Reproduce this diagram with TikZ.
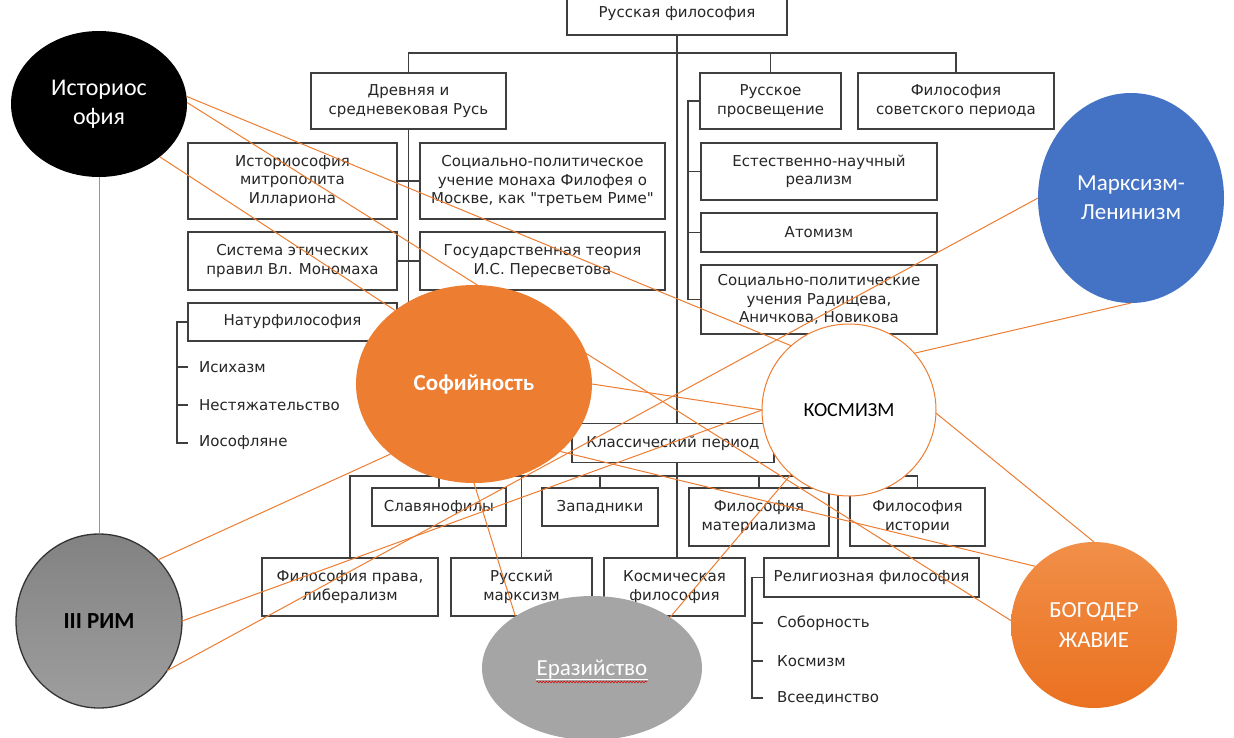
\documentclass[tikz,border=0pt]{standalone}
\usepackage{fontspec}
\setmainfont{DejaVu Sans}
\newfontfamily\boxff{DejaVu Sans}
\newfontfamily\calfont{Carlito}
\usetikzlibrary{shapes.geometric,decorations.pathmorphing}
\definecolor{boxc}{HTML}{3F3F3F}
\definecolor{txtc}{HTML}{262626}
\definecolor{org}{HTML}{ED7D31}
\definecolor{blu}{HTML}{4472C4}
\definecolor{gry}{HTML}{A5A5A5}
\definecolor{rimt}{HTML}{828282}
\definecolor{rimb}{HTML}{9E9E9E}
\definecolor{bogt}{HTML}{F18F48}
\definecolor{bogb}{HTML}{EA7120}
\newcommand{\boxfont}{\boxff\fontsize{15}{18.5}\selectfont}
\begin{document}
\begin{tikzpicture}[x=1pt,y=-1pt,
  box/.style={draw=boxc, line width=1.2pt, fill=white, align=center, inner sep=1pt, text=txtc, font=\boxfont},
  lst/.style={anchor=west, inner sep=0pt, text=txtc, font=\boxfont},
  tree/.style={draw=boxc, line width=1.2pt},
  conn/.style={draw=org, line width=1pt},
  circ/.style={ellipse, inner sep=0pt, outer sep=0pt, align=center}]
\useasboundingbox (0,0) rectangle (1234,737);
\fill[white] (0,0) rectangle (1234,737);

% ---- boxes ----
\node[box, minimum width=220pt, minimum height=42pt] (rus) at (677,14) {Русская философия};
\node[box, minimum width=195pt, minimum height=56pt] (drev) at (408.5,101) {Древняя и\\средневековая Русь};
\node[box, minimum width=141pt, minimum height=56pt] (ros) at (770.5,101) {Русское\\просвещение};
\node[box, minimum width=196pt, minimum height=56pt] (sov) at (956,101) {Философия\\советского периода};
\node[box, minimum width=209pt, minimum height=76pt] (ilar) at (292.5,181) {Историософия\\митрополита\\Иллариона};
\node[box, minimum width=245pt, minimum height=76pt] (filo) at (542.5,181) {Социально-политическое\\учение монаха Филофея о\\Москве, как "третьем Риме"};
\node[box, minimum width=209pt, minimum height=58pt] (sys) at (292.5,261) {Система этических\\правил Вл. Мономаха};
\node[box, minimum width=245pt, minimum height=58pt] (gos) at (542.5,261) {Государственная теория\\И.С. Пересветова};
\node[box, minimum width=209pt, minimum height=38pt] (nat) at (292.5,322) {Натурфилософия};
\node[box, minimum width=236pt, minimum height=57pt] (est) at (819,171.5) {Естественно-научный\\реализм};
\node[box, minimum width=236pt, minimum height=39pt] (atom) at (819,232.5) {Атомизм};
\node[box, minimum width=236pt, minimum height=69pt] (soc) at (819,299.5) {Социально-политические\\учения Радищева,\\Аничкова, Новикова};
\node[box, minimum width=202pt, minimum height=39pt] (klass) at (673,443) {Классический период};
\node[box, minimum width=134pt, minimum height=38pt] (slav) at (439,507) {Славянофилы};
\node[box, minimum width=116pt, minimum height=38pt] (zap) at (600,507) {Западники};
\node[box, minimum width=140pt, minimum height=58pt] (mat) at (759,517) {Философия\\материализма};
\node[box, minimum width=135pt, minimum height=58pt] (ist) at (917.5,517) {Философия\\истории};
\node[box, minimum width=176pt, minimum height=58pt] (prav) at (350,587) {Философия права,\\либерализм};
\node[box, minimum width=141pt, minimum height=58pt] (rmar) at (521.5,587) {Русский\\марксизм};
\node[box, minimum width=141pt, minimum height=58pt] (kosm) at (674.5,587) {Космическая\\философия};
\node[box, minimum width=215pt, minimum height=39pt] (rel) at (871.5,577.5) {Религиозная философия};

\node[lst] (i1) at (199,367) {Исихазм};
\node[lst] (i2) at (199,405) {Нестяжательство};
\node[lst] (i3) at (199,443) {Иософляне};
\node[lst] (v1) at (777,623) {Соборность};
\node[lst] (v2) at (777,661) {Космизм};
\node[lst] (v3) at (777,698) {Всеединство};

% ---- tree lines ----
\coordinate (b1) at (0,53);
\coordinate (b2) at (0,476);
\coordinate (nb) at (177,0);
\coordinate (rs) at (688,0);
\coordinate (rb) at (752,0);
\coordinate (rx) at (838,0);
\draw[tree] (rus.south) -- (rus.south |- klass.north);
\draw[tree] (drev.north) |- (sov.north |- b1) -- (sov.north);
\draw[tree] (ros.north) -- (ros.north |- b1);
\draw[tree] (drev.south) -- (drev.south |- nat.east) -- (nat.east);
\draw[tree] (ilar.east) -- (filo.west);
\draw[tree] (sys.east) -- (gos.west);
\draw[tree] (nat.west) -| (nb |- i3.west) -- ([xshift=-11pt]i3.west);
\draw[tree] (nb |- i1.west) -- ([xshift=-11pt]i1.west);
\draw[tree] (nb |- i2.west) -- ([xshift=-11pt]i2.west);
\draw[tree] (ros.west) -| (rs |- soc.west) -- (soc.west);
\draw[tree] (rs |- est.west) -- (est.west);
\draw[tree] (rs |- atom.west) -- (atom.west);
\draw[tree] (rus.south |- klass.south) -- (rus.south |- kosm.north);
\draw[tree] (prav.north) |- (ist.north |- b2) -- (ist.north);
\draw[tree] (slav.north) -- (slav.north |- b2);
\draw[tree] (zap.north) -- (zap.north |- b2);
\draw[tree] (mat.north) -- (mat.north |- b2);
\draw[tree] (rmar.north) -- (rmar.north |- b2);
\draw[tree] (rx |- b2) -- (rx |- rel.north);
\draw[tree] (rel.west) -| (rb |- v3.west) -- ([xshift=-14pt]v3.west);
\draw[tree] (rb |- v1.west) -- ([xshift=-14pt]v1.west);
\draw[tree] (rb |- v2.west) -- ([xshift=-14pt]v2.west);

% ---- circles ----
\node[circ, fill=black, minimum width=176pt, minimum height=146pt, text=white, font=\calfont\fontsize{24}{28}\selectfont] (isf) at (99,104) {\raisebox{5pt}{\begin{tabular}{@{}c@{}}Историос\\[1pt]офия\end{tabular}}};
\node[circ, fill=blu, minimum width=186pt, minimum height=210pt, text=white, font=\calfont\fontsize{23}{29}\selectfont] (mar) at (1131,198) {Марксизм-\\Ленинизм};
\node[circ, fill=org, minimum width=236pt, minimum height=198pt, text=white, font=\calfont\bfseries\fontsize{23}{28}\selectfont] (sof) at (474,384) {Софийность};
\node[circ, draw=org, line width=1pt, fill=white, minimum width=174pt, minimum height=172pt, font=\calfont\fontsize{20}{24}\selectfont] (kos) at (849,410) {КОСМИЗМ};
\node[circ, draw=black!80, line width=1.3pt, top color=rimt, bottom color=rimb, minimum width=166pt, minimum height=174pt, font=\calfont\bfseries\fontsize{23}{28}\selectfont] (rim) at (99,621) {III РИМ};
\node[circ, fill=gry, minimum width=220pt, minimum height=144pt] (eraz) at (592,668) {};
\node[inner sep=0pt, text=white, font=\calfont\fontsize{23}{28}\selectfont] (erazt) at (592,670) {Еразийство};
\draw[white, line width=0.8pt] ([yshift=-3pt]erazt.base west) -- ([yshift=-3pt]erazt.base east);
\draw[red!85!black, line width=0.6pt, decorate, decoration={snake, amplitude=0.8pt, segment length=3pt}] ([yshift=-6pt]erazt.base west) -- ([yshift=-6pt]erazt.base east);
\node[circ, top color=bogt, bottom color=bogb, minimum width=166pt, minimum height=166pt, text=white, font=\calfont\fontsize{23}{30}\selectfont] (bog) at (1094,625) {БОГОДЕР\\ЖАВИЕ};

% ---- orange connectors ----
\draw[conn] (isf.-90) -- (rim.90);
\draw[conn] (isf.5) -- (kos.132);
\draw[conn] (isf.1) -- (bog.177);
\draw[conn] (isf.-41.5) -- (sof.137);
\draw[conn] (sof.220) -- (rim.46);
\draw[conn] (sof.0) -- (kos.180);
\draw[conn] (sof.-38) -- (bog.135.5);
\draw[conn] (sof.-90) -- (eraz.146.5);
\draw[conn] (rim.0) -- (kos.180);
\draw[conn] (rim.-36) -- (mar.180);
\draw[conn] (kos.41.5) -- (mar.-90);
\draw[conn] (kos.-2) -- (bog.90);
\draw[conn] (kos.228) -- (eraz.33);
\end{tikzpicture}
\end{document}
